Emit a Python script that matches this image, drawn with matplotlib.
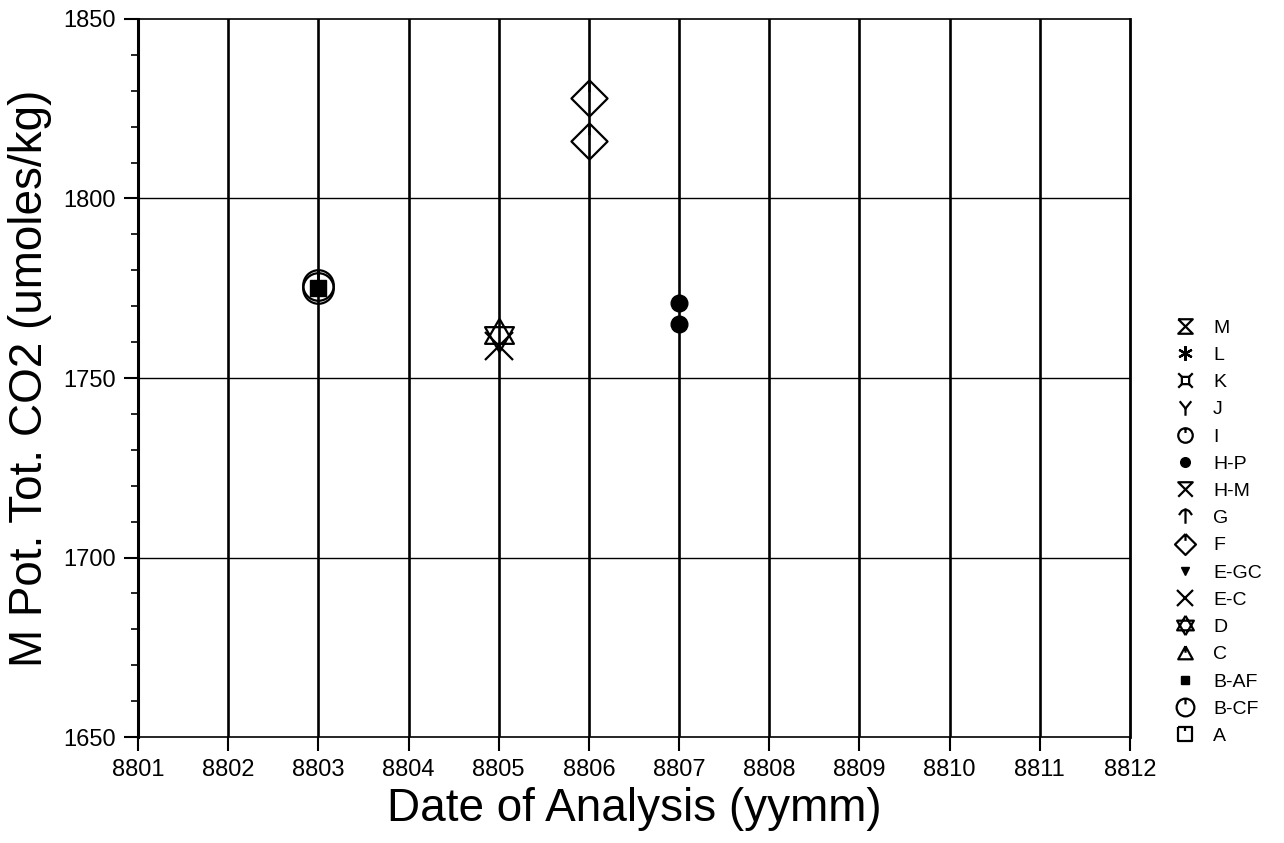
import matplotlib
matplotlib.use("Agg")
import matplotlib.pyplot as plt
import numpy as np
from matplotlib.path import Path
from matplotlib.ticker import MultipleLocator

plt.rcParams["font.family"] = ["Liberation Sans", "DejaVu Sans"]

# data (date yymm, umoles/kg)
bcf_x = [8803, 8803]
bcf_y = [1776, 1775]
baf_x = [8803]
baf_y = [1775]
d_x = [8805]
d_y = [1762]
ec_x = [8805]
ec_y = [1759]
f_x = [8806, 8806]
f_y = [1828, 1816]
hp_x = [8807, 8807]
hp_y = [1771, 1765]

x_ticks = np.arange(8801, 8813)
y_ticks = [1650, 1700, 1750, 1800, 1850]


def lines(*segs):
    # build a path from polylines
    verts, codes = [], []
    for seg in segs:
        for i, v in enumerate(seg):
            verts.append(v)
            codes.append(Path.MOVETO if i == 0 else Path.LINETO)
    return Path(verts, codes)


def with_circle(p):
    return Path.make_compound_path(Path.circle((0, 0), 1.0), p)


tick = [(0, 1), (0, 0.35)]
mk_M = lines([(-1, 1), (1, 1), (-1, -1), (1, -1), (-1, 1)])
mk_L = (6, 2, 0)
mk_K = lines([(-0.5, 0.5), (0.5, 0.5), (0.5, -0.5), (-0.5, -0.5), (-0.5, 0.5)],
             [(-0.5, 0.5), (-1, 1)], [(0.5, 0.5), (1, 1)],
             [(-0.5, -0.5), (-1, -1)], [(0.5, -0.5), (1, -1)])
mk_J = lines([(0, -1), (0, 0)], [(-0.8, 1), (0, 0), (0.8, 1)])
mk_I = with_circle(lines(tick))
mk_HM = lines([(-1, -1), (1, 1), (-1, 1), (1, -1)])
mk_G = lines([(0, -1), (0, 1)], [(-0.9, 0.2), (-0.5, 0.75), (0, 1), (0.5, 0.75), (0.9, 0.2)])
mk_F = lines([(0, 1), (1, 0), (0, -1), (-1, 0), (0, 1)], tick)
mk_D = lines([(0, 1), (0.866, -0.5), (-0.866, -0.5), (0, 1)],
             [(0, -1), (0.866, 0.5), (-0.866, 0.5), (0, -1)])
mk_C = lines([(0, 1), (1, -0.8), (-1, -0.8), (0, 1)], [(0, 1), (0, 0.1)])
mk_A = lines([(-1, 1), (1, 1), (1, -1), (-1, -1), (-1, 1)], tick)

fig = plt.figure(figsize=(12.84, 8.43), dpi=100)
ax = fig.add_axes([0.1075, 0.1257, 0.7725, 0.8518])

kw = dict(linestyle="none", color="black", markerfacecolor="none", markeredgewidth=1.6)
series = [
    ("A", [], [], mk_A, 18, kw),
    ("B-CF", bcf_x, bcf_y, mk_I, 22, kw),
    ("B-AF", baf_x, baf_y, "s", 11, dict(linestyle="none", color="black")),
    ("C", [], [], mk_C, 18, kw),
    ("D", d_x, d_y, mk_D, 24, kw),
    ("E-C", ec_x, ec_y, "x", 20, kw),
    ("E-GC", [], [], "v", 11, dict(linestyle="none", color="black")),
    ("F", f_x, f_y, mk_F, 26, kw),
    ("G", [], [], mk_G, 18, kw),
    ("H-M", [], [], mk_HM, 18, kw),
    ("H-P", hp_x, hp_y, "o", 12, dict(linestyle="none", color="black")),
    ("I", [], [], mk_I, 18, kw),
    ("J", [], [], mk_J, 18, kw),
    ("K", [], [], mk_K, 18, kw),
    ("L", [], [], mk_L, 18, kw),
    ("M", [], [], mk_M, 18, kw),
]
handles = []
for name, xs, ys, m, ms, style in series:
    h, = ax.plot(xs, ys, marker=m, markersize=ms, label=name, zorder=5, **style)
    handles.append(h)

ax.set_xlim(8801, 8812)
ax.set_ylim(1650, 1850)
ax.set_xticks(x_ticks)
ax.set_yticks(y_ticks)
ax.yaxis.set_minor_locator(MultipleLocator(10))
ax.tick_params(axis="both", which="major", direction="out", length=10, width=1.5,
               labelsize=17, pad=6, colors="black")
ax.tick_params(axis="y", which="minor", direction="out", length=5, width=1.2)

for x in x_ticks[1:-1]:
    ax.axvline(x, color="black", lw=1.9, zorder=1)
for y in y_ticks[1:-1]:
    ax.axhline(y, color="black", lw=1.0, zorder=1)

ax.spines["left"].set_linewidth(2.2)
ax.spines["right"].set_linewidth(2.0)
ax.spines["top"].set_linewidth(1.2)
ax.spines["bottom"].set_linewidth(1.2)

ax.set_xlabel("Date of Analysis (yymm)", fontsize=33, labelpad=4)
ax.set_ylabel("M Pot. Tot. CO2 (umoles/kg)", fontsize=33, labelpad=8)

fig.legend(handles[::-1], [h.get_label() for h in handles[::-1]],
           loc="upper left", bbox_to_anchor=(1175 / 1284, 1 - 319 / 843),
           frameon=False, fontsize=14, markerscale=0.58, handlelength=1.0,
           handletextpad=0.95, labelspacing=0.495, borderpad=0, borderaxespad=0)

fig.savefig("out.png", dpi=100)
